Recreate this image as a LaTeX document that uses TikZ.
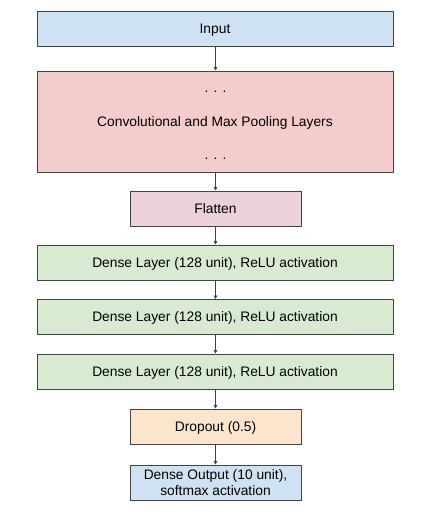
\documentclass[tikz,border=0pt]{standalone}
\usepackage{fontspec}
\setmainfont{Liberation Sans}
\usetikzlibrary{arrows.meta}
\definecolor{cblue}{HTML}{CFE2F3}
\definecolor{cred}{HTML}{F4CCCC}
\definecolor{cpink}{HTML}{EAD1DC}
\definecolor{cgreen}{HTML}{D9EAD3}
\definecolor{corange}{HTML}{FCE5CD}
\definecolor{cborder}{HTML}{434343}
\definecolor{carrow}{HTML}{404040}
\tikzset{
  layer/.style={draw=cborder, line width=0.9pt, rectangle, inner sep=0pt, align=center,
    minimum height=35pt, font=\fontsize{13.8}{15.2}\selectfont},
  oneline/.style={text height=9.9pt, text depth=0pt},
  wide/.style={layer, oneline, minimum width=356pt},
  narrow/.style={layer, minimum width=171pt},
  dots/.style={font=\fontsize{13.8}{13.8}\selectfont, inner sep=0pt},
  conn/.style={draw=carrow, line width=0.8pt, -{Triangle[length=3.5pt,width=3.5pt]}}
}
\begin{document}
\begin{tikzpicture}[x=1pt,y=-1pt]
\useasboundingbox (0,0) rectangle (431,512);
\node[wide, fill=cblue] (input) at (215,28.5) {Input};
\node[wide, fill=cred, minimum height=101pt] (conv) at (215,121.5) {Convolutional and Max Pooling Layers};
\node[dots] (dtop) at (215.5,91.5) {. . .};
\node[dots] (dbot) at (215.5,158.5) {. . .};
\node[narrow, oneline, fill=cpink] (flat) at (215.5,208.5) {Flatten};
\node[wide, fill=cgreen] (d1) at (215,262.5) {Dense Layer (128 unit), ReLU activation};
\node[wide, fill=cgreen] (d2) at (215,317) {Dense Layer (128 unit), ReLU activation};
\node[wide, fill=cgreen] (d3) at (215,371.5) {Dense Layer (128 unit), ReLU activation};
\node[narrow, oneline, fill=corange] (drop) at (215.5,426.5) {Dropout (0.5)};
\node[narrow, fill=cblue] (out) at (215.5,482.5) {Dense Output (10 unit),\\softmax activation};
\draw[conn] (input.south -| flat.south) -- (conv.north -| flat.south);
\draw[conn] (conv.south -| flat.south) -- (flat.north);
\draw[conn] (flat.south) -- (d1.north -| flat.south);
\draw[conn] (d1.south -| flat.south) -- (d2.north -| flat.south);
\draw[conn] (d2.south -| flat.south) -- (d3.north -| flat.south);
\draw[conn] (d3.south -| flat.south) -- (drop.north);
\draw[conn] (drop.south) -- (out.north);
\end{tikzpicture}
\end{document}
